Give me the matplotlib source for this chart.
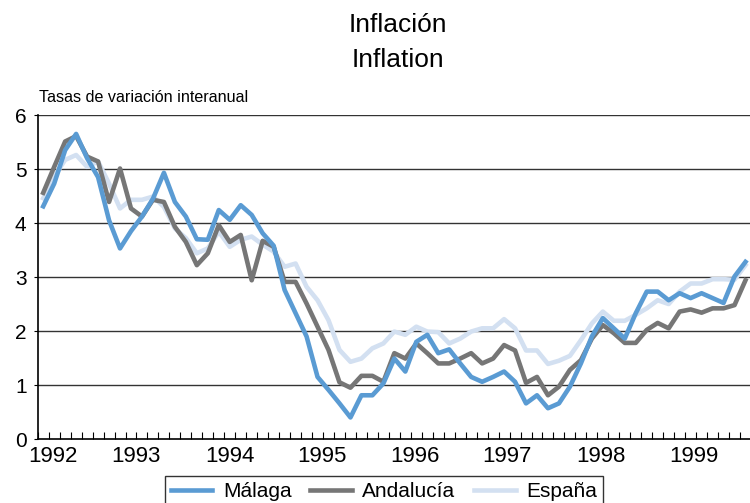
import numpy as np
import matplotlib
matplotlib.use("Agg")
import matplotlib.pyplot as plt

plt.rcParams['font.family'] = ['Liberation Sans', 'DejaVu Sans']

# tasas de variacion interanual (%), una por periodo
malaga = [4.31, 4.73, 5.35, 5.65, 5.2, 4.85, 4.05, 3.53, 3.85, 4.12,
          4.45, 4.93, 4.39, 4.12, 3.7, 3.69, 4.24, 4.06, 4.33, 4.15,
          3.81, 3.58, 2.76, 2.33, 1.9, 1.15, 0.91, 0.66, 0.4, 0.81,
          0.81, 1.03, 1.49, 1.25, 1.8, 1.93, 1.59, 1.66, 1.4, 1.15,
          1.06, 1.15, 1.25, 1.06, 0.66, 0.81, 0.57, 0.66, 0.97, 1.4,
          1.9, 2.24, 2.05, 1.86, 2.33, 2.73, 2.73, 2.57, 2.7, 2.61,
          2.7, 2.61, 2.52, 3.01, 3.28]
andalucia = [4.56, 5.04, 5.51, 5.61, 5.23, 5.14, 4.39, 5.01, 4.27, 4.12,
             4.43, 4.39, 3.93, 3.65, 3.22, 3.44, 3.96, 3.65, 3.78, 2.94,
             3.67, 3.56, 2.91, 2.91, 2.51, 2.08, 1.65, 1.05, 0.95, 1.17,
             1.17, 1.06, 1.59, 1.49, 1.77, 1.59, 1.4, 1.4, 1.49, 1.59,
             1.4, 1.49, 1.74, 1.64, 1.04, 1.15, 0.81, 0.97, 1.28, 1.46,
             1.86, 2.11, 1.96, 1.78, 1.78, 2.02, 2.15, 2.05, 2.36, 2.4,
             2.34, 2.42, 2.42, 2.48, 2.94]
espana = [4.46, 4.86, 5.17, 5.26, 5.04, 5.14, 4.73, 4.27, 4.43, 4.43,
          4.49, 4.3, 3.9, 3.72, 3.44, 3.53, 3.84, 3.56, 3.69, 3.75,
          3.6, 3.47, 3.19, 3.25, 2.82, 2.57, 2.2, 1.65, 1.43, 1.49,
          1.68, 1.77, 1.99, 1.93, 2.08, 1.99, 1.98, 1.77, 1.86, 1.99,
          2.05, 2.05, 2.22, 2.05, 1.64, 1.64, 1.39, 1.45, 1.54, 1.83,
          2.14, 2.36, 2.19, 2.19, 2.3, 2.42, 2.57, 2.5, 2.73, 2.88,
          2.88, 2.96, 2.96, 2.95, 3.22]
years = ['1992', '1993', '1994', '1995', '1996', '1997', '1998', '1999']
year_pos = [1.35, 8.92, 17.49, 25.92, 34.39, 42.78, 51.3, 59.78]

n = len(malaga)
x = np.arange(n) + 0.5

fig = plt.figure(figsize=(7.5, 5.03), dpi=100)
ax = fig.add_axes([0.0503, 0.1272, 0.951, 0.6441])

ax.plot(x, espana, color='#d3e0f1', lw=3.3, label='España', zorder=2)
ax.plot(x, andalucia, color='#767676', lw=3.3, label='Andalucía', zorder=3)
ax.plot(x, malaga, color='#5a9bd3', lw=3.3, label='Málaga', zorder=4)

ax.set_xlim(0, n)
ax.set_ylim(0, 6)
for v in range(1, 7):
    ax.axhline(v, color='#333333', lw=1, zorder=1)

ax.set_yticks(range(0, 7))
ax.tick_params(axis='y', direction='out', length=3, pad=5, labelsize=15)
ax.set_xticks(year_pos)
ax.set_xticklabels(years)
ax.set_xticks(np.arange(0, n + 1), minor=True)
ax.tick_params(axis='x', which='major', length=0, pad=5, labelsize=16)
ax.tick_params(axis='x', which='minor', direction='in', length=5, width=0.8)

for s in ['top', 'right']:
    ax.spines[s].set_visible(False)
ax.spines['left'].set_linewidth(1.2)
ax.spines['bottom'].set_linewidth(1.2)

fig.text(0.531, 1 - 25 / 503, 'Inflación', ha='center', va='center', fontsize=19)
fig.text(0.531, 1 - 60 / 503, 'Inflation', ha='center', va='center', fontsize=19)
fig.text(39 / 750, 1 - 97 / 503, 'Tasas de variación interanual', ha='left', va='center', fontsize=11.6)

h, l = ax.get_legend_handles_labels()
leg = fig.legend(h[::-1], l[::-1], loc='upper center', bbox_to_anchor=(384 / 750, 1 - 476 / 503),
                 ncol=3, fontsize=15, frameon=True, fancybox=False, edgecolor='black',
                 handlelength=2.0, columnspacing=0.9, handletextpad=0.5, borderaxespad=0,
                 borderpad=0.3)
leg.get_frame().set_linewidth(1)

fig.savefig('out.png', dpi=100)
